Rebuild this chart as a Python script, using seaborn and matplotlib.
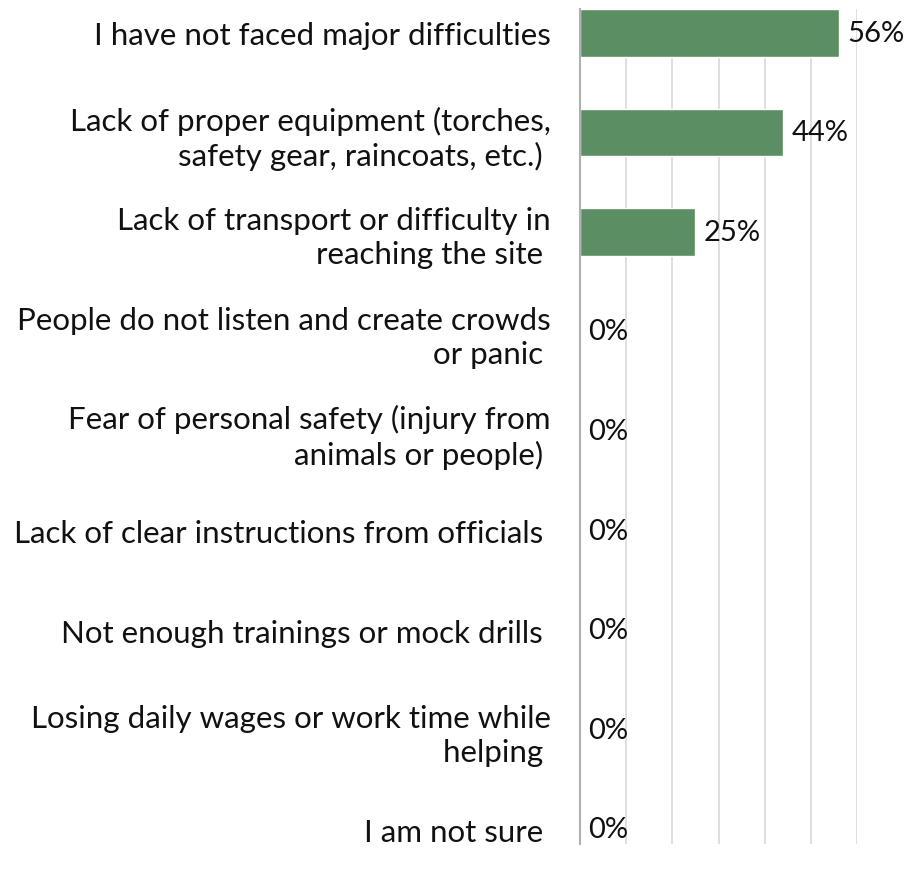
import matplotlib
matplotlib.use("Agg")
import matplotlib.pyplot as plt
import seaborn as sns
import pandas as pd

categories = [
    "I have not faced major difficulties",
    "Lack of proper equipment (torches,\nsafety gear, raincoats, etc.) ",
    "Lack of transport or difficulty in\nreaching the site ",
    "People do not listen and create crowds\nor panic ",
    "Fear of personal safety (injury from\nanimals or people) ",
    "Lack of clear instructions from officials ",
    "Not enough trainings or mock drills ",
    "Losing daily wages or work time while\nhelping ",
    "I am not sure ",
]
values = [56, 44, 25, 0, 0, 0, 0, 0, 0]

df = pd.DataFrame({"category": categories, "value": values})

sns.set_theme(style="white")
plt.rcParams["font.family"] = ["Lato", "DejaVu Sans"]

fig = plt.figure(figsize=(9.08, 8.70), dpi=100)
ax = fig.add_axes([580 / 908, 25 / 870, (857 - 580) / 908, (845 - 10) / 870])

sns.barplot(data=df, x="value", y="category", orient="h", color="#5b8f63",
            saturation=1, width=0.48, ax=ax)

ax.set_xlim(0, 60)
ax.set_ylim(8.15, -0.24)
ax.set_xticks(range(0, 61, 10))
ax.xaxis.grid(True, color="#d9d9d9", linewidth=1.2)
ax.set_axisbelow(True)
ax.set_xticklabels([])
ax.tick_params(axis="x", length=0)
ax.tick_params(axis="y", length=0, pad=21, labelsize=22.5, labelcolor="#111111")
for lab in ax.get_yticklabels():
    lab.set_multialignment("right")
    lab.set_linespacing(1.25)
ax.set_xlabel("")
ax.set_ylabel("")
for s in ["top", "right", "bottom"]:
    ax.spines[s].set_visible(False)
ax.spines["left"].set_color("#b0b0b0")
ax.spines["left"].set_linewidth(1.5)

for i, v in enumerate(values):
    ax.annotate(f"{v}%", xy=(v, i), xytext=(6, 0), textcoords="offset points",
                ha="left", va="center", fontsize=21, color="#111111")

fig.savefig("out.png", dpi=100)
